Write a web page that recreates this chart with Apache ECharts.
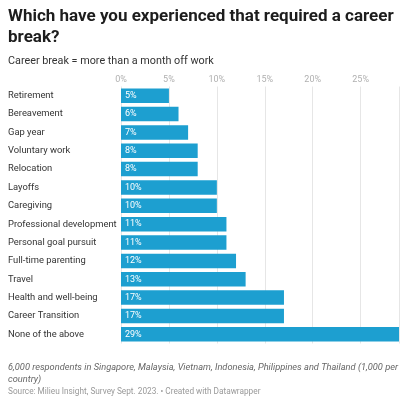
<!DOCTYPE html>
<html>
<head>
<meta charset="utf-8">
<script src="https://cdn.jsdelivr.net/npm/echarts@6/dist/echarts.min.js"></script>
<style>
  html, body { margin: 0; padding: 0; background: #fff; }
  #chart { width: 407px; height: 400px; }
</style>
</head>
<body>
<div id="chart"></div>
<script>
// reasons, top to bottom
var categories = [
    'Retirement', 'Bereavement', 'Gap year', 'Voluntary work', 'Relocation',
    'Layoffs', 'Caregiving', 'Professional development', 'Personal goal pursuit',
    'Full-time parenting', 'Travel', 'Health and well-being', 'Career Transition',
    'None of the above'
];
var values = [5, 6, 7, 8, 8, 10, 10, 11, 11, 12, 13, 17, 17, 29];
var tickValues = [0, 5, 10, 15, 20, 25];

var font = 'Roboto, "Noto Sans", sans-serif';

var myChart = echarts.init(document.getElementById('chart'));
var option = {
    backgroundColor: '#fff',
    animation: false,
    textStyle: { fontFamily: font },
    title: [
        {
            text: 'Which have you experienced that required a career\nbreak?',
            left: 8, top: 6.5, padding: 0,
            textStyle: { fontSize: 17, fontWeight: 'bold', color: '#1d1d1d', lineHeight: 21, fontFamily: font }
        },
        {
            text: 'Career break = more than a month off work',
            left: 8, top: 55.5, padding: 0,
            textStyle: { fontSize: 10.8, fontWeight: 'normal', color: '#333', fontFamily: font }
        },
        {
            text: '6,000 respondents in Singapore, Malaysia, Vietnam, Indonesia, Philippines and Thailand (1,000 per\ncountry)',
            left: 8, top: 361.5, padding: 0,
            textStyle: { fontSize: 9.25, fontStyle: 'italic', fontWeight: 'normal', color: '#666', lineHeight: 12, fontFamily: font }
        },
        {
            text: 'Source: Milieu Insight, Survey Sept. 2023. \u2022 Created with Datawrapper',
            left: 8, top: 387.5, padding: 0,
            textStyle: { fontSize: 8.25, fontWeight: 'normal', color: '#999', fontFamily: font }
        }
    ],
    grid: { left: 121, right: 8, top: 86.5, bottom: 56.5, containLabel: false },
    xAxis: {
        type: 'value',
        position: 'top',
        min: 0,
        max: values[values.length - 1],
        interval: 5,
        axisLine: { show: false },
        axisTick: { show: false },
        axisLabel: {
            margin: 2,
            fontSize: 9,
            color: '#b0b0b0',
            formatter: function (v) { return tickValues.indexOf(v) >= 0 ? v + '%' : ''; }
        },
        splitLine: { show: true, lineStyle: { color: '#e6e6e6', width: 1 } }
    },
    yAxis: {
        type: 'category',
        inverse: true,
        data: categories,
        axisLine: { show: false },
        axisTick: { show: false },
        axisLabel: {
            align: 'left',
            margin: 113,
            width: 116,
            overflow: 'none',
            fontSize: 9.4,
            color: '#333'
        }
    },
    series: [
        {
            type: 'bar',
            data: values,
            barCategoryGap: '21%',
            itemStyle: { color: '#1d9fd0' },
            label: {
                show: true,
                position: 'insideLeft',
                distance: 4,
                formatter: '{c}%',
                fontSize: 9,
                color: '#fff'
            }
        }
    ]
};
myChart.setOption(option);
</script>
</body>
</html>
